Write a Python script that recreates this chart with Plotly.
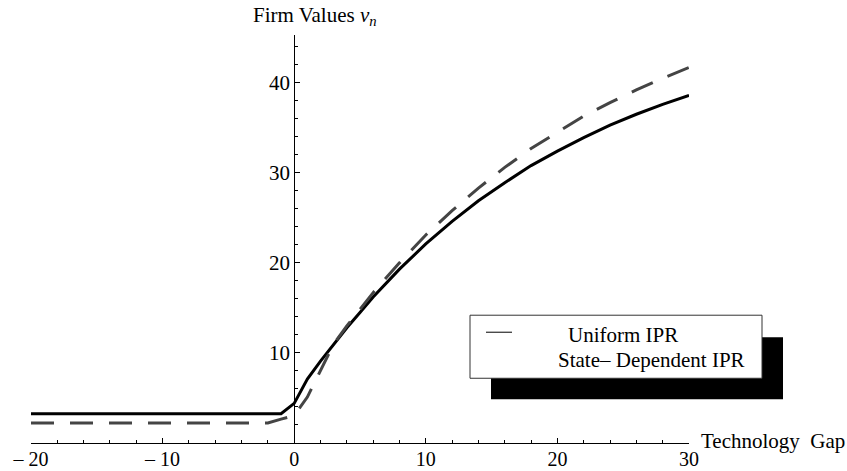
import plotly.graph_objects as go

# ---- data ----
gap_uniform = [-20, -1, 0, 1, 2, 3, 4, 5, 6, 8, 10, 12, 14, 16, 18, 20, 22, 24, 26, 28, 30]
uniform_ipr = [3.25, 3.25, 4.4, 7.1, 9.1, 10.95, 12.8, 14.5, 16.2, 19.3, 22.1, 24.6, 26.9,
               28.9, 30.8, 32.4, 33.9, 35.3, 36.5, 37.6, 38.6]

gap_state = [-20, -2, -1, 0, 1, 2, 3, 4, 5, 6, 8, 10, 12, 14, 16, 18, 20, 22, 24, 26, 28, 30]
state_dep_ipr = [2.22, 2.22, 2.65, 3.05, 5.1, 8.0, 11.0, 13.0, 14.9, 16.7, 20.0, 23.1, 25.8,
                 28.3, 30.6, 32.7, 34.5, 36.3, 37.8, 39.2, 40.5, 41.7]

x_tickvals = [-20, -10, 0, 10, 20, 30]
x_ticktext = ["\u2013 20", "\u2013 10", "0", "10", "20", "30"]
y_tickvals = [10, 20, 30, 40]
y_ticktext = ["10", "20", "30", "40"]

# ---- layout geometry (pixels) ----
W, H = 847, 471
L, R, T, B = 31, 689, 35, 442.7
FONT = "Liberation Serif"
FS = 21


def px(xp):
    return (xp - L) / (R - L)


def py(yp):
    return (B - yp) / (B - T)


fig = go.Figure()
fig.add_trace(go.Scatter(x=gap_uniform, y=uniform_ipr, mode="lines",
                         line=dict(color="black", width=3), showlegend=False))
fig.add_trace(go.Scatter(x=gap_state, y=state_dep_ipr, mode="lines",
                         line=dict(color="#444444", width=3, dash="23px,16px"),
                         showlegend=False))

fig.update_layout(
    width=W, height=H,
    margin=dict(l=L, r=W - R, t=T, b=H - B, pad=0),
    paper_bgcolor="white", plot_bgcolor="white",
    font=dict(family=FONT, size=FS, color="black"),
    xaxis=dict(range=[-20, 30], showgrid=False, zeroline=False, automargin=False,
               showline=True, linecolor="black", linewidth=1,
               ticks="inside", ticklen=5, tickwidth=1, tickcolor="black",
               tickvals=x_tickvals, ticktext=x_ticktext, ticklabelstandoff=-2,
               minor=dict(dtick=2, tick0=0, ticks="inside", ticklen=3,
                          tickcolor="black", showgrid=False),
               tickfont=dict(family=FONT, size=20)),
    yaxis=dict(range=[0, 45.3], showgrid=False, zeroline=False, automargin=False,
               anchor="free", position=0.4,
               showline=True, linecolor="black", linewidth=1,
               ticks="inside", ticklen=5, tickwidth=1, tickcolor="black",
               tickvals=y_tickvals, ticktext=y_ticktext,
               minor=dict(dtick=2, tick0=0, ticks="inside", ticklen=3,
                          tickcolor="black", showgrid=False),
               tickfont=dict(family=FONT, size=FS)),
)

# legend: shadow, box, sample line
fig.add_shape(type="rect", xref="paper", yref="paper",
              x0=px(491), x1=px(783), y0=py(399), y1=py(337),
              fillcolor="black", line=dict(width=0), layer="above")
fig.add_shape(type="rect", xref="paper", yref="paper",
              x0=px(470), x1=px(762), y0=py(378), y1=py(315),
              fillcolor="white", line=dict(color="#333333", width=1), layer="above")
fig.add_shape(type="line", xref="paper", yref="paper",
              x0=px(486), x1=px(512), y0=py(332), y1=py(332),
              line=dict(color="black", width=1), layer="above")

fig.add_annotation(xref="paper", yref="paper", x=px(566), y=py(335),
                   text="Uniform IPR", showarrow=False, xanchor="left", yanchor="middle",
                   font=dict(family=FONT, size=FS))
fig.add_annotation(xref="paper", yref="paper", x=px(556), y=py(360),
                   text="State\u2013 Dependent IPR", showarrow=False, xanchor="left",
                   yanchor="middle", font=dict(family=FONT, size=FS))

# axis labels
fig.add_annotation(xref="paper", yref="paper", x=px(251), y=py(16),
                   text="Firm Values <i>v<sub>n</sub></i>", showarrow=False,
                   xanchor="left", yanchor="middle", font=dict(family=FONT, size=FS))
fig.add_annotation(xref="paper", yref="paper", x=px(699), y=py(441),
                   text="Technology  Gap", showarrow=False,
                   xanchor="left", yanchor="middle", font=dict(family=FONT, size=FS))

fig.write_html("out.html")
